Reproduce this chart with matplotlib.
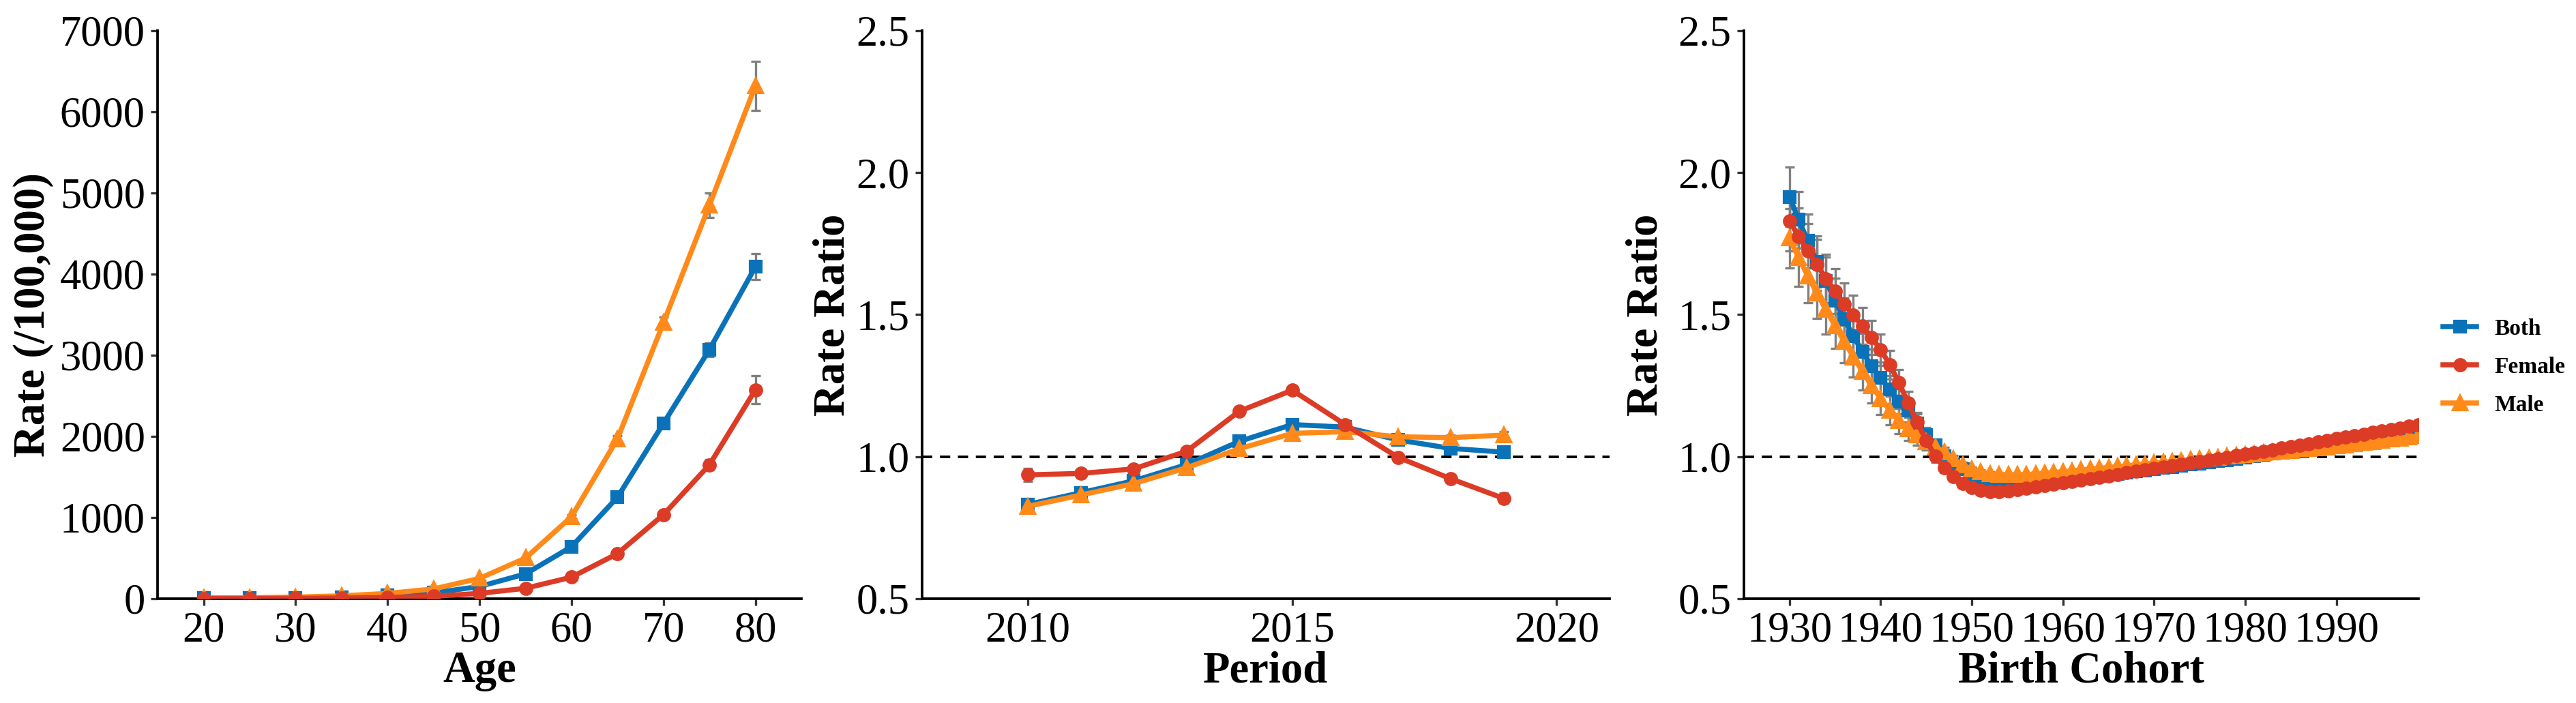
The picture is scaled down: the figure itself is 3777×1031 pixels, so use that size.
import matplotlib.pyplot as plt
import numpy as np

plt.rcParams['font.family'] = ['Liberation Serif', 'DejaVu Serif']

# ---- data ----
ages = [20, 25, 30, 35, 40, 45, 50, 55, 60, 65, 70, 75, 80]
age_both = [6, 8, 12, 20, 38, 72, 150, 305, 640, 1250, 2160, 3070, 4090]
age_female = [2, 3, 5, 8, 15, 30, 65, 128, 265, 555, 1035, 1650, 2575]
age_male = [10, 12, 20, 35, 65, 120, 250, 500, 1010, 1970, 3400, 4850, 6320]
age_both_ci = [2, 2, 3, 3, 4, 5, 6, 8, 15, 25, 40, 85, 160]
age_female_ci = [1, 1, 2, 2, 3, 4, 5, 6, 10, 20, 30, 60, 170]
age_male_ci = [3, 3, 4, 5, 6, 8, 10, 12, 20, 40, 70, 150, 300]

periods = [2010, 2011, 2012, 2013, 2014, 2015, 2016, 2017, 2018, 2019]
per_both = [0.832, 0.873, 0.915, 0.972, 1.054, 1.113, 1.104, 1.059, 1.029, 1.016]
per_female = [0.936, 0.941, 0.957, 1.019, 1.160, 1.234, 1.113, 0.998, 0.922, 0.853]
per_male = [0.825, 0.865, 0.905, 0.961, 1.028, 1.082, 1.088, 1.070, 1.067, 1.076]
per_both_ci = [0.012, 0.008, 0.006, 0.005, 0.004, 0.004, 0.004, 0.005, 0.007, 0.012]
per_female_ci = [0.022, 0.015, 0.010, 0.008, 0.007, 0.007, 0.007, 0.008, 0.012, 0.018]
per_male_ci = [0.012, 0.009, 0.007, 0.005, 0.004, 0.004, 0.004, 0.005, 0.008, 0.012]

cohorts = list(range(1930, 2000))
coh_both = [1.915, 1.834, 1.760, 1.687, 1.618, 1.549, 1.484, 1.425, 1.369, 1.319,
            1.278, 1.236, 1.195, 1.163, 1.117, 1.075, 1.039, 1.002, 0.974, 0.956,
            0.938, 0.926, 0.919, 0.913, 0.910, 0.908, 0.908, 0.909, 0.911, 0.913,
            0.916, 0.920, 0.924, 0.928, 0.932, 0.936, 0.940, 0.944, 0.948, 0.952,
            0.956, 0.960, 0.964, 0.968, 0.972, 0.976, 0.980, 0.984, 0.988, 0.993,
            0.997, 1.002, 1.006, 1.011, 1.016, 1.021, 1.026, 1.031, 1.036, 1.041,
            1.046, 1.051, 1.056, 1.061, 1.066, 1.071, 1.076, 1.081, 1.086, 1.091]
coh_female = [1.829, 1.776, 1.725, 1.676, 1.627, 1.583, 1.537, 1.498, 1.460, 1.420,
              1.377, 1.324, 1.261, 1.190, 1.121, 1.057, 1.002, 0.960, 0.930, 0.905,
              0.892, 0.882, 0.878, 0.878, 0.880, 0.884, 0.889, 0.894, 0.899, 0.903,
              0.908, 0.913, 0.918, 0.923, 0.928, 0.933, 0.938, 0.943, 0.948, 0.953,
              0.958, 0.963, 0.968, 0.973, 0.978, 0.983, 0.988, 0.993, 0.998, 1.003,
              1.008, 1.013, 1.019, 1.024, 1.030, 1.035, 1.041, 1.046, 1.052, 1.057,
              1.063, 1.068, 1.074, 1.079, 1.085, 1.090, 1.096, 1.101, 1.107, 1.113]
coh_male = [1.769, 1.700, 1.636, 1.576, 1.517, 1.461, 1.406, 1.351, 1.300, 1.250,
            1.204, 1.163, 1.126, 1.098, 1.075, 1.052, 1.034, 1.016, 0.993, 0.970,
            0.956, 0.947, 0.940, 0.937, 0.936, 0.936, 0.937, 0.939, 0.942, 0.945,
            0.947, 0.950, 0.953, 0.956, 0.959, 0.962, 0.965, 0.968, 0.971, 0.974,
            0.977, 0.980, 0.983, 0.986, 0.989, 0.992, 0.995, 0.998, 1.001, 1.004,
            1.007, 1.010, 1.013, 1.016, 1.019, 1.022, 1.025, 1.028, 1.031, 1.034,
            1.037, 1.041, 1.045, 1.049, 1.053, 1.057, 1.061, 1.065, 1.069, 1.073]
coh_ci = [0.105, 0.100, 0.095, 0.090, 0.085, 0.080, 0.075, 0.070, 0.065, 0.060,
          0.055, 0.050, 0.045, 0.040, 0.034, 0.028, 0.022, 0.016, 0.012, 0.010,
          0.008, 0.007, 0.006, 0.006, 0.005, 0.005, 0.005, 0.005, 0.004, 0.004,
          0.004, 0.004, 0.004, 0.004, 0.003, 0.003, 0.003, 0.003, 0.003, 0.003,
          0.003, 0.003, 0.003, 0.003, 0.003, 0.003, 0.003, 0.003, 0.003, 0.003,
          0.003, 0.003, 0.003, 0.003, 0.003, 0.003, 0.003, 0.003, 0.004, 0.004,
          0.004, 0.004, 0.004, 0.005, 0.005, 0.005, 0.005, 0.006, 0.006, 0.006]

series = ['Both', 'Female', 'Male']
colors = {'Both': '#0A72B8', 'Female': '#DC3B26', 'Male': '#FF8A1A'}
markers = {'Both': 's', 'Female': 'o', 'Male': '^'}
msizes = {'Both': 4.0, 'Female': 4.0, 'Male': 4.6}
zorders = {'Both': 3, 'Female': 5, 'Male': 4}

fig = plt.figure(figsize=(3777 / 300, 1031 / 300), dpi=300)
ax1 = fig.add_axes([0.0612, 0.1484, 0.2499, 0.808])
ax2 = fig.add_axes([0.3580, 0.1484, 0.2668, 0.808])
ax3 = fig.add_axes([0.6770, 0.1484, 0.2618, 0.808])


def draw(ax, x, data, errs):
    for name in series:
        ax.errorbar(x, data[name], yerr=errs[name], fmt='none', ecolor='#808080',
                    elinewidth=0.8, capsize=1.6, capthick=0.8, zorder=2)
    for name in series:
        ax.plot(x, data[name], color=colors[name], marker=markers[name],
                markersize=msizes[name], linewidth=1.8, label=name,
                zorder=zorders[name])


def style(ax, xlabel, ylabel, labelpad):
    for s in ['top', 'right']:
        ax.spines[s].set_visible(False)
    for s in ['left', 'bottom']:
        ax.spines[s].set_linewidth(0.9)
        ax.spines[s].set_color('black')
    ax.tick_params(axis='both', direction='out', length=2.4, width=0.8,
                   color='#333333', labelsize=15, labelcolor='black', pad=2)
    ax.set_xlabel(xlabel, fontsize=15.5, fontweight='bold', labelpad=0)
    ax.set_ylabel(ylabel, fontsize=15.5, fontweight='bold', labelpad=labelpad)


draw(ax1, ages, {'Both': age_both, 'Female': age_female, 'Male': age_male},
     {'Both': age_both_ci, 'Female': age_female_ci, 'Male': age_male_ci})
ax1.set_xlim(15, 85)
ax1.set_ylim(0, 7000)
ax1.set_xticks([20, 30, 40, 50, 60, 70, 80])
ax1.set_yticks([0, 1000, 2000, 3000, 4000, 5000, 6000, 7000])
style(ax1, 'Age', 'Rate (/100,000)', 2)

ax2.axhline(1.0, color='black', linestyle=(0, (4, 3)), linewidth=0.9, zorder=1)
draw(ax2, periods, {'Both': per_both, 'Female': per_female, 'Male': per_male},
     {'Both': per_both_ci, 'Female': per_female_ci, 'Male': per_male_ci})
ax2.set_xlim(2008, 2021)
ax2.set_ylim(0.5, 2.5)
ax2.set_xticks([2010, 2015, 2020])
ax2.set_yticks([0.5, 1.0, 1.5, 2.0, 2.5])
ax2.set_yticklabels(['0.5', '1.0', '1.5', '2.0', '2.5'])
style(ax2, 'Period', 'Rate Ratio', 1)

ax3.axhline(1.0, color='black', linestyle=(0, (4, 3)), linewidth=0.9, zorder=1)
draw(ax3, cohorts, {'Both': coh_both, 'Female': coh_female, 'Male': coh_male},
     {'Both': coh_ci, 'Female': coh_ci, 'Male': coh_ci})
ax3.set_xlim(1925, 1999)
ax3.set_ylim(0.5, 2.5)
ax3.set_xticks([1930, 1940, 1950, 1960, 1970, 1980, 1990])
ax3.set_yticks([0.5, 1.0, 1.5, 2.0, 2.5])
ax3.set_yticklabels(['0.5', '1.0', '1.5', '2.0', '2.5'])
style(ax3, 'Birth Cohort', 'Rate Ratio', 4)

handles, labels = ax3.get_legend_handles_labels()
fig.legend(handles, labels, loc='center left', bbox_to_anchor=(0.9485, 0.478),
           frameon=False, prop={'weight': 'bold', 'size': 8}, handlelength=1.45,
           handletextpad=0.8, labelspacing=0.75, borderpad=0, borderaxespad=0)

fig.savefig('out.png', dpi=300)
